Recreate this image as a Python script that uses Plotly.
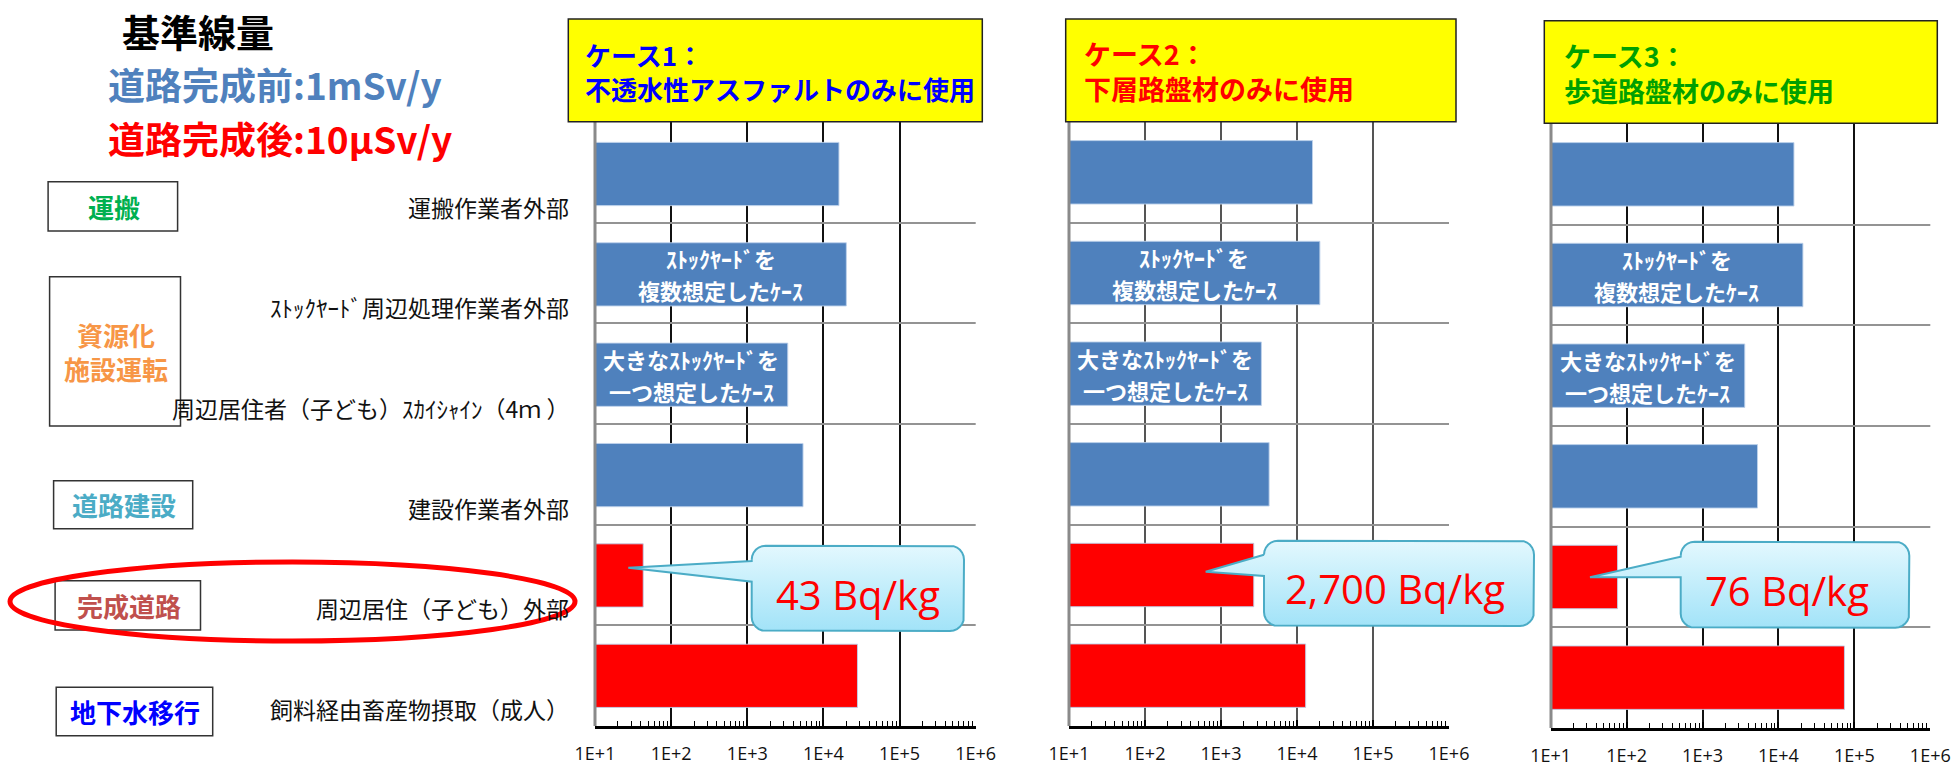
import math
import plotly.graph_objects as go

W, H = 1957, 767

# ---- data -------------------------------------------------------------
ROWS = [
    "運搬作業者外部",
    "ｽﾄｯｸﾔｰﾄﾞ周辺処理作業者外部",
    "周辺居住者（子ども）ｽｶｲｼｬｲﾝ（4ｍ ）",
    "建設作業者外部",
    "周辺居住（子ども）外部",
    "飼料経由畜産物摂取（成人）",
]
# Bq/kg that meets the reference dose, per scenario
CASE1 = [1.6e4, 2.0e4, 3.4e3, 5.4e3, 43, 2.8e4]
CASE2 = [1.6e4, 2.0e4, 3.4e3, 4.3e3, 2700, 1.3e4]
CASE3 = [1.6e4, 2.1e4, 3.6e3, 5.3e3, 76, 7.4e4]
CASES = [CASE1, CASE2, CASE3]

PHASE = ["before", "before", "before", "before", "after", "after"]
PHASE_COLOR = {"before": "#4F81BD", "after": "#FF0000"}

CASE_TITLES = [
    ("ケース1：", "不透水性アスファルトのみに使用"),
    ("ケース2：", "下層路盤材のみに使用"),
    ("ケース3：", "歩道路盤材のみに使用"),
]
CASE_COLORS = ["#0000FF", "#FF0000", "#00A000"]

BAR_NOTES = {1: ("ｽﾄｯｸﾔｰﾄﾞを", "複数想定したｹｰｽ"), 2: ("大きなｽﾄｯｸﾔｰﾄﾞを", "一つ想定したｹｰｽ")}
HIGHLIGHT_ROW = 4  # road completed, children nearby

AXIS_MIN = 10
TICK_VALS = [1e1, 1e2, 1e3, 1e4, 1e5, 1e6]
TICK_TEXT = ["1E+1", "1E+2", "1E+3", "1E+4", "1E+5", "1E+6"]

GROUPS = [
    (["運搬"], "#00B050"),
    (["資源化", "施設運転"], "#F79646"),
    (["道路建設"], "#4BACC6"),
    (["完成道路"], "#C0504D"),
    (["地下水移行"], "#0000FF"),
]

# ---- layout geometry (pixels) ------------------------------------------
PANEL_X = [(595, 975.7), (1069, 1449), (1550.7, 1930.3)]
PANEL_Y = [(122, 726), (122, 726), (124, 728)]
TITLE_BOX = [(568.3, 19, 982.3, 121.7), (1065.7, 19, 1456, 121.7), (1544.3, 20.7, 1937.3, 123.3)]
TITLE_X = [583, 1081.7, 1561.7]
TITLE_SIZE = [26, 27, 27]
GROUP_BOX = [
    (48.1, 181.7, 177.6, 231),
    (49.6, 276.7, 180.5, 426),
    (53.6, 480.7, 192.7, 528.7),
    (55.1, 580.7, 200.5, 630),
    (56.2, 687.3, 212.7, 735.7),
]
CALLOUT_BOX = [(751.7, 545.7, 964, 631), (1264, 540.7, 1534, 626), (1680.7, 541.7, 1909.3, 627.7)]
CALLOUT_NECK = [(561, 581.7), (555, 576), (556.7, 577.3)]
CALLOUT_TIP = [(628.3, 567.7), (1205.7, 571.7), (1590, 577.3)]
CALLOUT_TEXT_XY = [(858, 594), (1395, 588), (1787, 590)]

CJK = "Noto Sans CJK JP"

fig = go.Figure()

# ---- bar panels ---------------------------------------------------------
vgrid = ["#111111", "#555555", "#111111"]
for i, vals in enumerate(CASES):
    n = "" if i == 0 else str(i + 1)
    xa, ya = "x" + n, "y" + n
    fig.add_trace(go.Bar(
        x=[v - AXIS_MIN for v in vals], base=AXIS_MIN, y=ROWS, orientation="h", width=0.63,
        marker=dict(color=[PHASE_COLOR[p] for p in PHASE],
                    line=dict(color="rgba(190,210,235,0.9)", width=1)),
        customdata=vals, hovertemplate="%{y}: %{customdata:,}<extra></extra>",
        xaxis=xa, yaxis=ya, showlegend=False,
    ))
    x0, x1 = PANEL_X[i]
    y0, y1 = PANEL_Y[i]
    fig.layout["xaxis" + n] = dict(
        type="log", range=[1, 6], domain=[x0 / W, x1 / W], anchor=ya,
        tickmode="array", tickvals=TICK_VALS, ticktext=TICK_TEXT,
        tickfont=dict(family="Open Sans", size=18, color="#111"),
        ticks="inside", ticklen=6, tickcolor="#000", tickwidth=1.5,
        minor=dict(tickmode="array",
                   tickvals=[m * 10 ** e for e in range(1, 6) for m in range(2, 10)],
                   ticks="inside", ticklen=5, tickcolor="#000", tickwidth=1.2, showgrid=False),
        showgrid=True, gridcolor=vgrid[i], gridwidth=1.5,
        showline=True, linecolor="#000", linewidth=2.5, zeroline=False,
        ticklabelstandoff=10, fixedrange=True, automargin=False,
    )
    fig.layout["yaxis" + n] = dict(
        type="category", categoryorder="array", categoryarray=ROWS,
        autorange="reversed", domain=[1 - y1 / H, 1 - y0 / H], anchor=xa,
        showgrid=False, showticklabels=False, ticks="", showline=False,
        zeroline=False, fixedrange=True, automargin=False,
    )
    # notes written inside the stock-yard bars, one line each
    for r, (top, bottom) in BAR_NOTES.items():
        xc = (math.log10(AXIS_MIN) + math.log10(vals[r])) / 2
        for txt, dy in ((top, 16), (bottom, -16)):
            fig.add_annotation(
                xref=xa, yref=ya, x=xc, y=ROWS[r], yshift=dy,
                text="<b>" + txt + "</b>", showarrow=False,
                font=dict(family=CJK, size=22, color="white"),
            )

# ---- overlay canvas in pixel units for frames, callouts and headings ------
fig.layout["xaxis4"] = dict(domain=[0, 1], range=[0, W], visible=False, anchor="y4",
                            fixedrange=True, automargin=False)
fig.layout["yaxis4"] = dict(domain=[0, 1], range=[H, 0], visible=False, anchor="x4",
                            fixedrange=True, automargin=False)

# row separators and the left axis line of every panel
sep_x, sep_y, ax_x, ax_y = [], [], [], []
for (x0, x1), (y0, y1) in zip(PANEL_X, PANEL_Y):
    step = (y1 - y0) / len(ROWS)
    for r in range(1, len(ROWS)):
        sep_x += [x0, x1, None]
        sep_y += [round(y0 + r * step)] * 2 + [None]
    ax_x += [round(x0), round(x0), None]
    ax_y += [y0, y1, None]
fig.add_trace(go.Scatter(x=sep_x, y=sep_y, xaxis="x4", yaxis="y4", mode="lines",
                         line=dict(color="#939393", width=2.2), hoverinfo="skip", showlegend=False))
fig.add_trace(go.Scatter(x=ax_x, y=ax_y, xaxis="x4", yaxis="y4", mode="lines",
                         line=dict(color="#8a8a8a", width=3), hoverinfo="skip", showlegend=False))


def rounded_callout(box, neck, tip, r=14, steps=6):
    x0, y0, x1, y1 = box
    pts = []

    def arc(cx, cy, a0, a1):
        for k in range(steps + 1):
            a = math.radians(a0 + (a1 - a0) * k / steps)
            pts.append((cx + r * math.cos(a), cy + r * math.sin(a)))

    arc(x0 + r, y0 + r, 180, 270)
    arc(x1 - r, y0 + r, 270, 360)
    arc(x1 - r, y1 - r, 0, 90)
    arc(x0 + r, y1 - r, 90, 180)
    pts.append((x0, neck[1]))
    pts.append(tip)
    pts.append((x0, neck[0]))
    pts.append(pts[0])
    return [p[0] for p in pts], [p[1] for p in pts]


for i, vals in enumerate(CASES):
    xs, ys = rounded_callout(CALLOUT_BOX[i], CALLOUT_NECK[i], CALLOUT_TIP[i])
    fig.add_trace(go.Scatter(
        x=xs, y=ys, xaxis="x4", yaxis="y4", mode="lines", fill="toself",
        fillgradient=dict(type="vertical", start=CALLOUT_BOX[i][1], stop=CALLOUT_BOX[i][3],
                          colorscale=[[0, "#E3F8FE"], [1, "#A2E3F8"]]),
        line=dict(color="#4BACC6", width=2), showlegend=False, hoverinfo="skip",
    ))
    tx, ty = CALLOUT_TEXT_XY[i]
    fig.add_annotation(
        xref="x4", yref="y4", x=tx, y=ty, showarrow=False,
        text=f"{vals[HIGHLIGHT_ROW]:,} Bq/kg",
        font=dict(family="Open Sans", size=40, color="#FF0000"),
    )

# case title boxes
for i, (l1, l2) in enumerate(CASE_TITLES):
    bx0, by0, bx1, by1 = TITLE_BOX[i]
    fig.add_shape(type="rect", xref="x4", yref="y4", x0=bx0, y0=by0, x1=bx1, y1=by1,
                  fillcolor="#FFFF00", line=dict(color="#222", width=1.5), layer="above")
    fig.add_annotation(xref="x4", yref="y4", x=TITLE_X[i], y=by0 + 52, xanchor="left",
                       align="left", showarrow=False,
                       text="<b>" + l1 + "<br>" + l2 + "</b>",
                       font=dict(family=CJK, size=TITLE_SIZE[i], color=CASE_COLORS[i]))

# group boxes on the left
for (lines, col), (gx0, gy0, gx1, gy1) in zip(GROUPS, GROUP_BOX):
    fig.add_shape(type="rect", xref="x4", yref="y4", x0=gx0, y0=gy0, x1=gx1, y1=gy1,
                  fillcolor="white", line=dict(color="#333", width=1.5), layer="above")
    fig.add_annotation(xref="x4", yref="y4", x=(gx0 + gx1) / 2 + 1, y=(gy0 + gy1) / 2,
                       showarrow=False, align="center",
                       text="<b>" + "<br>".join(lines) + "</b>",
                       font=dict(family=CJK, size=26, color=col))

# row labels
for row in ROWS:
    fig.add_annotation(xref="x4", yref="y", x=571, y=row, yshift=-33, xanchor="right",
                       showarrow=False, text=row,
                       font=dict(family=CJK, size=23, color="#111"))

# highlight ring around the completed-road row
fig.add_shape(type="circle", xref="x4", yref="y4", x0=10, y0=562, x1=575, y1=641,
              line=dict(color="#FF0000", width=5), layer="above")

# reference dose headings
fig.add_annotation(xref="x4", yref="y4", x=120, y=30, xanchor="left", showarrow=False,
                   text="<b>基準線量</b>", font=dict(family=CJK, size=38, color="#000"))
fig.add_annotation(xref="x4", yref="y4", x=106, y=84, xanchor="left", showarrow=False,
                   text="<b>道路完成前:1mSv/y</b>",
                   font=dict(family=CJK, size=37, color="#4F81BD"))
fig.add_annotation(xref="x4", yref="y4", x=106, y=138, xanchor="left", showarrow=False,
                   text="<b>道路完成後:10μSv/y</b>",
                   font=dict(family=CJK, size=37, color="#FF0000"))

fig.update_layout(
    width=W, height=H, margin=dict(l=0, r=0, t=0, b=0, pad=0, autoexpand=False),
    paper_bgcolor="white", plot_bgcolor="rgba(0,0,0,0)",
    barmode="overlay", showlegend=False,
)

fig.write_html("out.html", config={"displayModeBar": False})
